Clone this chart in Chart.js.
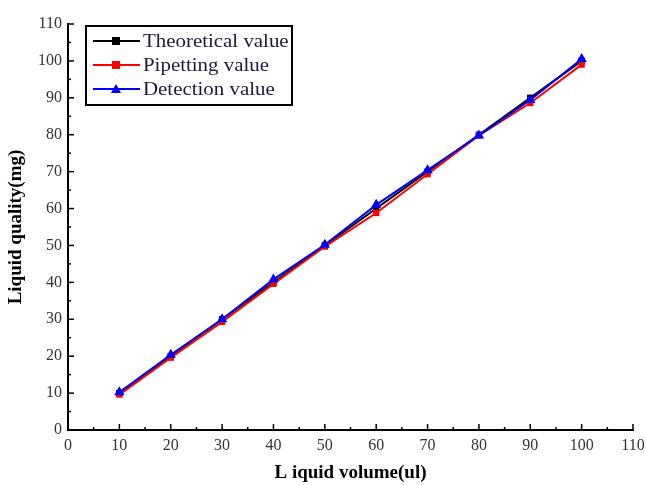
<!DOCTYPE html>
<html><head><meta charset="utf-8">
<script src="https://cdn.jsdelivr.net/npm/chart.js@4"></script>
<style>html,body{margin:0;padding:0;background:#fff}#wrap{width:646px;height:485px}</style>
</head><body><div id="wrap"><canvas id="c" width="646" height="485"></canvas></div>
<script>
const volumes = [10,20,30,40,50,60,70,80,90,100];
const theoretical = [10,20,30,40,50,60,70,80,90,100];
const pipetting = [9.6,19.6,29.3,39.6,49.7,58.8,69.3,79.8,88.6,99.0];
const detection = [10.2,20.4,30.0,40.8,50.2,61.0,70.4,79.8,89.4,100.5];
const seriesNames = ['Theoretical value','Pipetting value','Detection value'];
const axisTicks = [0,10,20,30,40,50,60,70,80,90,100,110];
const xTitle = 'L iquid volume(ul)';
const yTitle = 'Liquid quality(mg)';

const serif = "'Liberation Serif','DejaVu Serif',serif";
function pts(ys){return volumes.map((v,i)=>({x:v,y:ys[i]}));}

const inwardTicks = {
  id:'inwardTicks',
  afterDraw(chart){
    const ctx=chart.ctx, a=chart.chartArea, xs=chart.scales.x, ys=chart.scales.y;
    ctx.save(); ctx.strokeStyle='#000'; ctx.lineWidth=1.5;
    for(let v=0; v<=110; v+=5){
      const major = v%10===0, len = major?6:3;
      const px = xs.getPixelForValue(v);
      ctx.beginPath(); ctx.moveTo(px,a.bottom); ctx.lineTo(px,a.bottom-len); ctx.stroke();
      const py = ys.getPixelForValue(v);
      ctx.beginPath(); ctx.moveTo(a.left,py); ctx.lineTo(a.left+len,py); ctx.stroke();
    }
    ctx.restore();
  }
};

function drawMarker(ctx, style, x, y, r, color){
  ctx.fillStyle=color;
  if(style==='triangle'){
    ctx.beginPath(); ctx.moveTo(x,y-r); ctx.lineTo(x+r,y+r*0.8); ctx.lineTo(x-r,y+r*0.8); ctx.closePath(); ctx.fill();
  } else {
    ctx.fillRect(x-r,y-r,2*r,2*r);
  }
}

const boxLegend = {
  id:'boxLegend',
  afterDraw(chart){
    const ctx=chart.ctx;
    const x0=86, y0=26, w=206, h=79;
    ctx.save();
    ctx.strokeStyle='#000'; ctx.lineWidth=2; ctx.strokeRect(x0,y0,w,h);
    ctx.textBaseline='middle';
    chart.data.datasets.forEach((ds,i)=>{
      const y = y0+15+i*24;
      ctx.strokeStyle=ds.borderColor; ctx.lineWidth=2;
      ctx.beginPath(); ctx.moveTo(x0+7,y); ctx.lineTo(x0+54,y); ctx.stroke();
      drawMarker(ctx, ds.pointStyle==='triangle'?'triangle':'rect', x0+30, y, ds.pointStyle==='triangle'?5:4, ds.borderColor);
      ctx.save();
      ctx.translate(x0+57, y+1); ctx.scale(1.1,1);
      ctx.font='19px '+serif; ctx.fillStyle='#1a1a40';
      ctx.fillText(ds.label, 0, 0);
      ctx.restore();
    });
    ctx.restore();
  }
};

new Chart(document.getElementById('c'), {
  type:'line',
  data:{datasets:[
    {label:seriesNames[0], data:pts(theoretical), borderColor:'#000', backgroundColor:'#000', borderWidth:2, pointStyle:'rect', pointRadius:4.5, pointBorderWidth:0, order:3},
    {label:seriesNames[1], data:pts(pipetting), borderColor:'#ff0000', backgroundColor:'#ff0000', borderWidth:2, pointStyle:'rect', pointRadius:4.5, pointBorderWidth:0, order:2},
    {label:seriesNames[2], data:pts(detection), borderColor:'#0000ff', backgroundColor:'#0000ff', borderWidth:2, pointStyle:'triangle', pointRadius:6, pointBorderWidth:0, order:1}
  ]},
  options:{
    responsive:false, animation:false,
    layout:{padding:{top:24,right:13,left:5,bottom:0}},
    plugins:{legend:{display:false}, tooltip:{enabled:false}},
    scales:{
      x:{type:'linear', min:0, max:110,
        afterBuildTicks(s){s.ticks=axisTicks.map(v=>({value:v}));},
        afterFit(s){s.height=55; s.paddingRight=0; s.paddingLeft=0;},
        grid:{display:false, drawTicks:false},
        border:{display:true, color:'#000', width:2},
        ticks:{padding:6, color:'#333', font:{family:serif, size:16}, maxRotation:0},
        title:{display:true, text:xTitle, color:'#000', font:{family:serif, size:19, weight:'bold'}, padding:{top:0,bottom:1}}
      },
      y:{type:'linear', min:0, max:110,
        afterBuildTicks(s){s.ticks=axisTicks.map(v=>({value:v}));},
        afterFit(s){s.width=63;},
        grid:{display:false, drawTicks:false},
        border:{display:true, color:'#000', width:2},
        ticks:{padding:6, color:'#333', font:{family:serif, size:16}},
        title:{display:true, text:yTitle, color:'#000', font:{family:serif, size:19, weight:'bold'}, padding:{top:0,bottom:0}}
      }
    }
  },
  plugins:[inwardTicks, boxLegend]
});
</script></body></html>
